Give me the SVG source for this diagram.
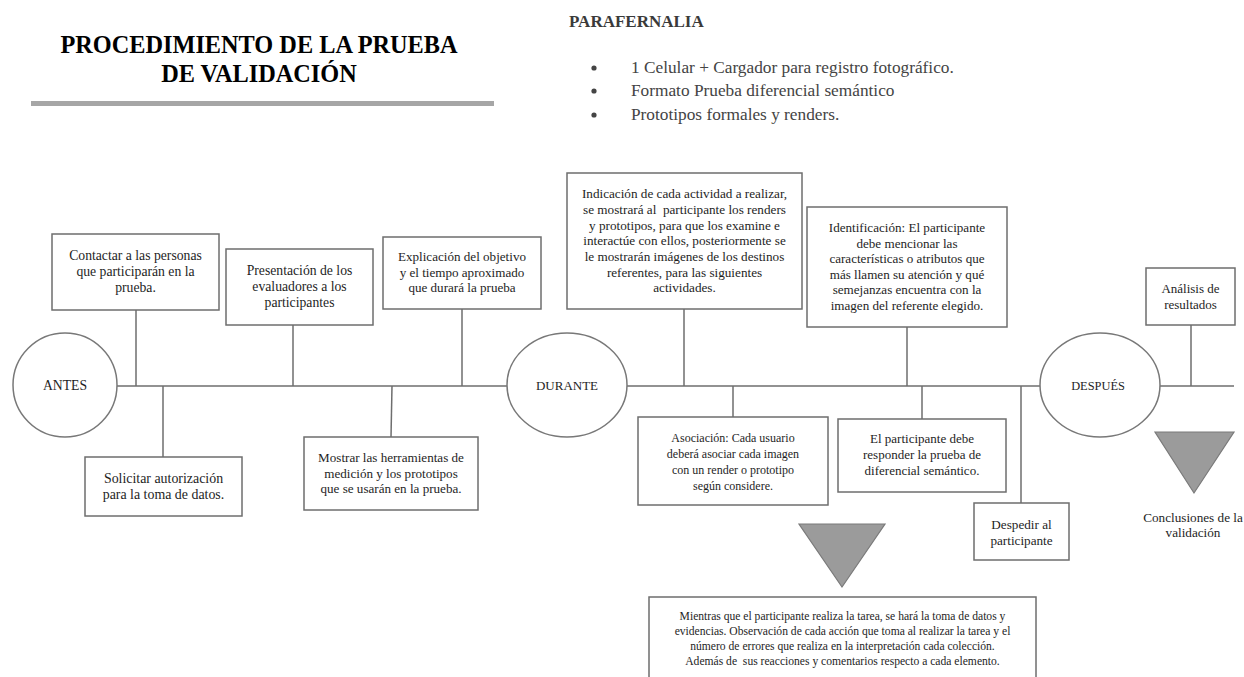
<svg xmlns="http://www.w3.org/2000/svg" width="1244" height="677" viewBox="0 0 1244 677">
<style>
  text { font-family: "Liberation Serif", "Times New Roman", serif; fill: #1e1e1e; text-anchor: middle; }
  .box { fill: #ffffff; stroke: #6e6e6e; stroke-width: 1.5; }
  .phase { fill: #ffffff; stroke: #787878; stroke-width: 1.5; }
  .tri { fill: #9b9b9b; stroke: #7a7a7a; stroke-width: 1.2; }
  .ln { stroke: #6e6e6e; stroke-width: 1.5; fill: none; }
  .f12 { font-size: 12px; }
  .f13 { font-size: 13px; }
  .f131 { font-size: 13.1px; }
  .f132 { font-size: 13.2px; }
  .f136 { font-size: 13.7px; }
  .f139 { font-size: 13.9px; }
  .tx { font-size: 11.6px; }
  .title { font-size: 24.3px; font-weight: bold; fill: #000; }
  .para { font-size: 17.3px; fill: #444; text-anchor: start; }
</style>
<rect x="0" y="0" width="1244" height="677" fill="#ffffff"/>

<g id="title">
  <text class="title" x="259" y="53">PROCEDIMIENTO DE LA PRUEBA</text>
  <text class="title" x="259" y="82">DE VALIDACIÓN</text>
  <rect x="31" y="101" width="463" height="5" fill="#a6a6a6"/>
</g>

<g id="parafernalia">
  <text x="569" y="27" style="font-size:17px;font-weight:bold;fill:#3a3a3a;text-anchor:start">PARAFERNALIA</text>
  <circle cx="594" cy="68" r="2.6" fill="#444"/>
  <circle cx="594" cy="91" r="2.6" fill="#444"/>
  <circle cx="594" cy="115" r="2.6" fill="#444"/>
  <text class="para" x="631" y="73">1 Celular + Cargador para registro fotográfico.</text>
  <text class="para" x="631" y="96">Formato Prueba diferencial semántico</text>
  <text class="para" x="631" y="120">Prototipos formales y renders.</text>
</g>

<g id="connectors">
  <line class="ln" x1="117" y1="386" x2="507" y2="386"/>
  <line class="ln" x1="627" y1="386" x2="1040" y2="386"/>
  <line class="ln" x1="1160" y1="386" x2="1234" y2="386"/>
  <line class="ln" x1="136" y1="310" x2="136" y2="386"/>
  <line class="ln" x1="293" y1="325" x2="293" y2="386"/>
  <line class="ln" x1="462" y1="309" x2="462" y2="386"/>
  <line class="ln" x1="163" y1="386" x2="163" y2="457"/>
  <line class="ln" x1="392" y1="386" x2="391" y2="437"/>
  <line class="ln" x1="684" y1="309" x2="684" y2="386"/>
  <line class="ln" x1="733" y1="386" x2="733" y2="417"/>
  <line class="ln" x1="907" y1="327" x2="907" y2="386"/>
  <line class="ln" x1="922" y1="386" x2="922" y2="419"/>
  <line class="ln" x1="1021" y1="386" x2="1021" y2="503"/>
  <line class="ln" x1="1191" y1="325" x2="1191" y2="386"/>
</g>

<g id="antes">
  <circle class="phase" cx="65" cy="385" r="52"/>
  <text class="f136" x="65" y="390">ANTES</text>
</g>
<g id="durante">
  <ellipse class="phase" cx="567" cy="385" rx="60" ry="52"/>
  <text class="f13" x="567" y="390">DURANTE</text>
</g>
<g id="despues">
  <ellipse class="phase" cx="1100" cy="385" rx="60" ry="52"/>
  <text class="f13" x="1098" y="390" style="font-size:12.4px">DESPUÉS</text>
</g>

<g id="contactar">
  <rect class="box" x="52" y="234" width="167" height="76"/>
  <text class="f136" x="135.5" y="260">Contactar a las personas</text>
  <text class="f136" x="135.5" y="276">que participarán en la</text>
  <text class="f136" x="135.5" y="292">prueba.</text>
</g>
<g id="presentacion">
  <rect class="box" x="226" y="249" width="147" height="76"/>
  <text class="f136" x="299.5" y="275">Presentación de los</text>
  <text class="f136" x="299.5" y="291">evaluadores a los</text>
  <text class="f136" x="299.5" y="307">participantes</text>
</g>
<g id="explicacion">
  <rect class="box" x="383" y="237" width="158" height="72"/>
  <text class="f131" x="462" y="261">Explicación del objetivo</text>
  <text class="f131" x="462" y="277">y el tiempo aproximado</text>
  <text class="f131" x="462" y="292">que durará la prueba</text>
</g>
<g id="solicitar">
  <rect class="box" x="85" y="457" width="157" height="59"/>
  <text class="f139" x="163.5" y="483">Solicitar autorización</text>
  <text class="f139" x="163.5" y="499">para la toma de datos.</text>
</g>
<g id="mostrar">
  <rect class="box" x="304" y="437" width="174" height="73"/>
  <text class="f131" x="391" y="462">Mostrar las herramientas de</text>
  <text class="f131" x="391" y="478">medición y los prototipos</text>
  <text class="f131" x="391" y="493">que se usarán en la prueba.</text>
</g>
<g id="indicacion">
  <rect class="box" x="567" y="173" width="235" height="136"/>
  <text class="f132" x="684.5" y="198">Indicación de cada actividad a realizar,</text>
  <text class="f132" x="684.5" y="214" style="white-space:pre">se mostrará al  participante los renders</text>
  <text class="f132" x="684.5" y="230">y prototipos, para que los examine e</text>
  <text class="f132" x="684.5" y="245">interactúe con ellos, posteriormente se</text>
  <text class="f132" x="684.5" y="261">le mostrarán imágenes de los destinos</text>
  <text class="f132" x="684.5" y="277">referentes, para las siguientes</text>
  <text class="f132" x="684.5" y="292">actividades.</text>
</g>
<g id="asociacion">
  <rect class="box" x="638" y="417" width="190" height="88"/>
  <text class="f12" x="733" y="442">Asociación: Cada usuario</text>
  <text class="f12" x="733" y="458">deberá asociar cada imagen</text>
  <text class="f12" x="733" y="474">con un render o prototipo</text>
  <text class="f12" x="733" y="490">según considere.</text>
</g>
<g id="identificacion">
  <rect class="box" x="807" y="207" width="200" height="120"/>
  <text class="f131" x="907" y="232">Identificación: El participante</text>
  <text class="f131" x="907" y="247.6">debe mencionar las</text>
  <text class="f131" x="907" y="263.2">características o atributos que</text>
  <text class="f131" x="907" y="278.8">más llamen su atención y qué</text>
  <text class="f131" x="907" y="294.4">semejanzas encuentra con la</text>
  <text class="f131" x="907" y="310">imagen del referente elegido.</text>
</g>
<g id="responder">
  <rect class="box" x="838" y="419" width="168" height="73"/>
  <text class="f13" x="922" y="443">El participante debe</text>
  <text class="f13" x="922" y="459">responder la prueba de</text>
  <text class="f13" x="922" y="475">diferencial semántico.</text>
</g>
<g id="despedir">
  <rect class="box" x="974" y="503" width="95" height="57"/>
  <text class="f132" x="1021.5" y="529">Despedir al</text>
  <text class="f132" x="1021.5" y="545">participante</text>
</g>
<g id="analisis">
  <rect class="box" x="1146" y="268" width="89" height="57"/>
  <text class="f13" x="1190.5" y="293">Análisis de</text>
  <text class="f13" x="1190.5" y="309">resultados</text>
</g>
<g id="conclusiones">
  <polygon class="tri" points="1155,432 1234,432 1194,493"/>
  <text class="f132" x="1193" y="522">Conclusiones de la</text>
  <text class="f132" x="1193" y="537">validación</text>
</g>
<g id="mientras">
  <polygon class="tri" points="799,524 885,524 842,587"/>
  <rect class="box" x="649" y="597" width="387" height="95"/>
  <text class="tx" x="842.5" y="620">Mientras que el participante realiza la tarea, se hará la toma de datos y</text>
  <text class="tx" x="842.5" y="635">evidencias. Observación de cada acción que toma al realizar la tarea y el</text>
  <text class="tx" x="842.5" y="650">número de errores que realiza en la interpretación cada colección.</text>
  <text class="tx" x="842.5" y="665" style="white-space:pre">Además de  sus reacciones y comentarios respecto a cada elemento.</text>
</g>
</svg>
